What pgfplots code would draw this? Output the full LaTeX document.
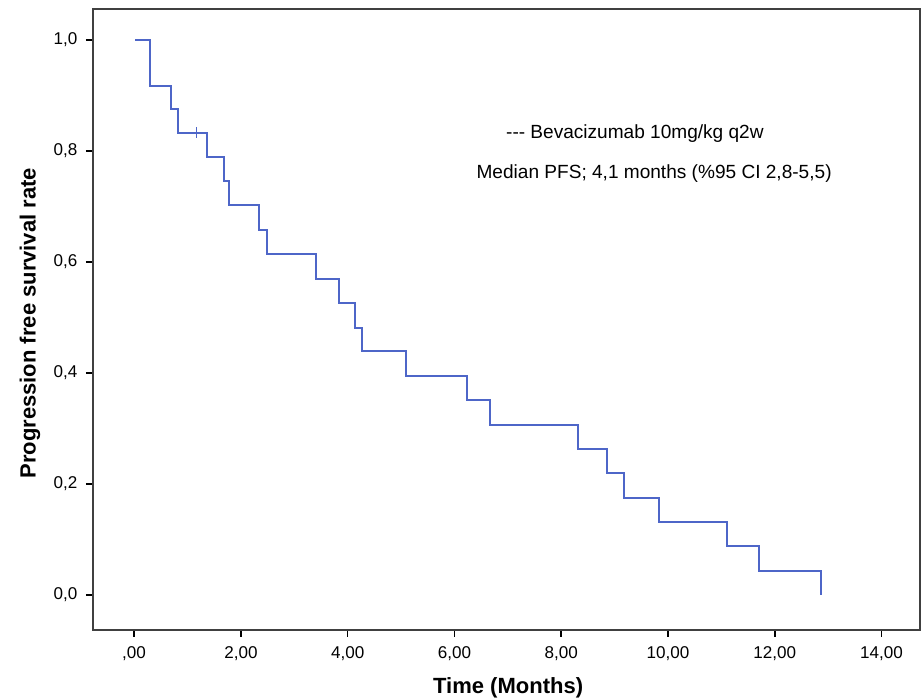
\documentclass[border=0pt]{standalone}
\usepackage{fontspec}
\setmainfont{Liberation Sans}
\usepackage{pgfplots}
\pgfplotsset{compat=1.18}
\definecolor{kmblue}{RGB}{78,102,200}

% Kaplan-Meier step curve (time in months, survival)
\pgfplotstableread{
t      s
0.02   1.000
0.30   1.000
0.30   0.917
0.69   0.917
0.69   0.875
0.82   0.875
0.82   0.833
1.37   0.833
1.37   0.789
1.685  0.789
1.685  0.746
1.77   0.746
1.77   0.702
2.33   0.702
2.33   0.658
2.48   0.658
2.48   0.614
3.41   0.614
3.41   0.570
3.84   0.570
3.84   0.526
4.13   0.526
4.13   0.482
4.26   0.482
4.26   0.439
5.09   0.439
5.09   0.395
6.23   0.395
6.23   0.351
6.67   0.351
6.67   0.307
8.32   0.307
8.32   0.263
8.85   0.263
8.85   0.219
9.18   0.219
9.18   0.175
9.84   0.175
9.84   0.132
11.11  0.132
11.11  0.088
11.70  0.088
11.70  0.044
12.86  0.044
12.86  0.000
}\kmdata

\begin{document}
\begin{tikzpicture}
\begin{axis}[
    scale only axis,
    width=620.25pt,
    height=465.75pt,
    xmin=-0.77, xmax=14.72,
    ymin=-0.063, ymax=1.056,
    xtick={0,2,4,6,8,10,12,14},
    xticklabels={{,00},{2,00},{4,00},{6,00},{8,00},{10,00},{12,00},{14,00}},
    ytick={0,0.2,0.4,0.6,0.8,1.0},
    yticklabels={{0,0},{0,2},{0,4},{0,6},{0,8},{1,0}},
    xtick pos=bottom, ytick pos=left,
    tick align=outside,
    major tick length=5.25pt,
    tick style={black, line width=1.2pt},
    axis line style={black!75, line width=0.9pt},
    tick label style={font=\fontsize{12.8}{14}\selectfont},
    xticklabel style={yshift=-4pt},
    yticklabel style={xshift=-3pt},
    /pgf/number format/assume math mode=true,
    xlabel={\textbf{Time (Months)}},
    ylabel={\textbf{Progression free survival rate}},
    label style={font=\fontsize{16.5}{19}\selectfont},
    xlabel style={at={(axis description cs:0.502,-0.0934)}, anchor=center},
    ylabel style={at={(axis description cs:-0.0762,0.494)}, anchor=center},
]
\addplot[kmblue, line width=1.5pt] table[x=t, y=s] {\kmdata};
% censored observation
\addplot[kmblue, only marks, mark=|, mark size=4pt, mark options={line width=1.3pt}] coordinates {(1.17,0.833)};
\node[font=\fontsize{14.3}{17}\selectfont] at (axis cs:9.38,0.832) {-{}-{}- Bevacizumab 10mg/kg q2w};
\node[font=\fontsize{14.3}{17}\selectfont] at (axis cs:9.74,0.759) {Median PFS; 4,1 months (\%95 CI 2,8-5,5)};
\end{axis}
\pgfresetboundingbox
\path ([xshift=-69.75pt, yshift=-51.75pt]current axis.south west) rectangle ([xshift=0.75pt, yshift=6.75pt]current axis.north east);
\end{tikzpicture}
\end{document}
